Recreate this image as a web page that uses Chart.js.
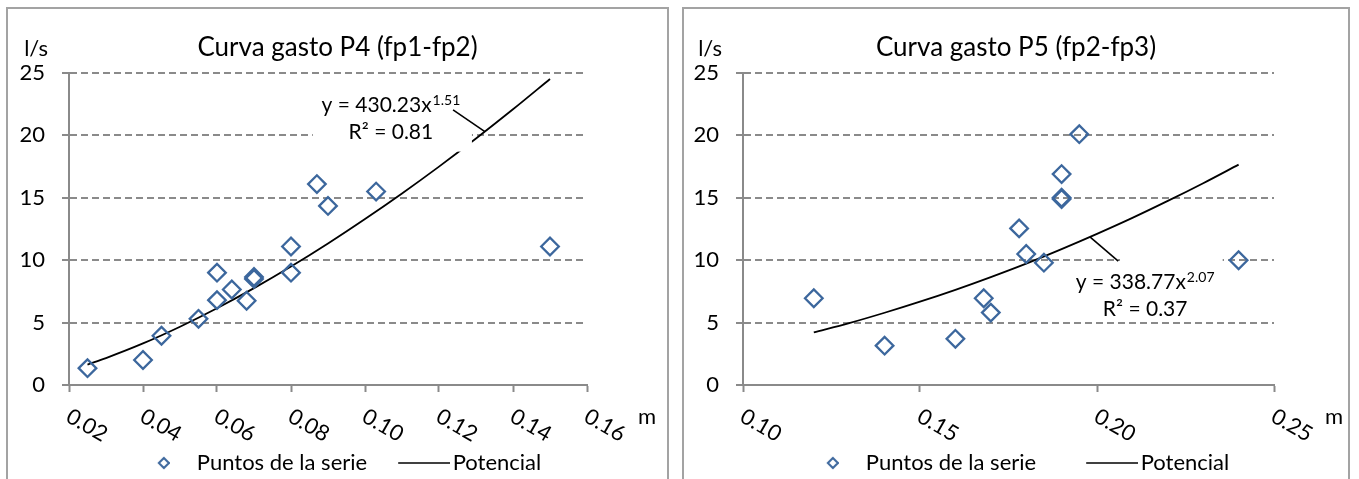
<!DOCTYPE html>
<html>
<head>
<meta charset="utf-8">
<script src="https://cdn.jsdelivr.net/npm/chart.js@4.4.1/dist/chart.umd.min.js"></script>
<style>
  html, body { margin: 0; padding: 0; background: #fff; overflow: hidden; width: 1359px; height: 479px; }
  .caja { position: absolute; border: 2px solid #a3a3a3; border-bottom: none; background: #fff; }
  #caja1 { left: 6px; top: 7px; width: 659px; height: 490px; }
  #caja2 { left: 682px; top: 7px; width: 664px; height: 490px; }
  canvas { position: absolute; left: 0; top: 0; }
</style>
</head>
<body>
<div class="caja" id="caja1"><canvas id="graficoP4" width="659" height="475"></canvas></div>
<div class="caja" id="caja2"><canvas id="graficoP5" width="664" height="475"></canvas></div>
<script>
// Eje vertical (l/s), común a las dos gráficas
const ejeY = [0, 5, 10, 15, 20, 25];

// Curva gasto P4 (fp1-fp2)
const p4Ticks = [0.02, 0.04, 0.06, 0.08, 0.10, 0.12, 0.14, 0.16];
const p4Tirante = [0.025, 0.040, 0.045, 0.055, 0.060, 0.060, 0.064, 0.068, 0.070, 0.070, 0.080, 0.080, 0.087, 0.090, 0.103, 0.150];
const p4Gasto = [1.35, 2.0, 3.95, 5.3, 6.8, 9.0, 7.65, 6.75, 8.5, 8.65, 9.0, 11.1, 16.1, 14.35, 15.5, 11.1];
const p4PotX = [0.025, 0.03, 0.04, 0.05, 0.06, 0.07, 0.08, 0.09, 0.10, 0.11, 0.12, 0.13, 0.14, 0.15];
const p4PotY = [1.64, 2.16, 3.33, 4.67, 6.15, 7.76, 9.49, 11.34, 13.30, 15.35, 17.50, 19.75, 22.09, 24.52];

// Curva gasto P5 (fp2-fp3)
const p5Ticks = [0.10, 0.15, 0.20, 0.25];
const p5Tirante = [0.120, 0.140, 0.160, 0.168, 0.170, 0.178, 0.180, 0.185, 0.190, 0.190, 0.190, 0.195, 0.240];
const p5Gasto = [6.95, 3.15, 3.7, 6.95, 5.8, 12.55, 10.5, 9.8, 16.9, 15.0, 14.9, 20.1, 10.0];
const p5PotX = [0.12, 0.13, 0.14, 0.15, 0.16, 0.17, 0.18, 0.19, 0.20, 0.21, 0.22, 0.23, 0.24];
const p5PotY = [4.21, 4.96, 5.79, 6.68, 7.63, 8.65, 9.73, 10.89, 12.11, 13.39, 14.75, 16.17, 17.66];

const AZUL = '#3c679d';
const GRIS = '#8a8a8a';
const FUENTE = 'Lato';
const ALTO = 475;        // alto del canvas
const BASE_AREA = 376;   // borde inferior del área de trazado
const LETRA = 22;

function pares(xs, ys) {
    return xs.map((x, i) => ({ x: x, y: ys[i] }));
}

// Imágenes para la leyenda (rombo y línea)
function imagenRombo() {
    const c = document.createElement('canvas');
    c.width = 20; c.height = 20;
    const ctx = c.getContext('2d');
    ctx.strokeStyle = AZUL;
    ctx.lineWidth = 2;
    ctx.beginPath();
    ctx.moveTo(14 - 5, 10);
    ctx.lineTo(14, 5);
    ctx.lineTo(14 + 5, 10);
    ctx.lineTo(14, 15);
    ctx.closePath();
    ctx.stroke();
    return c;
}

function imagenLinea() {
    const c = document.createElement('canvas');
    c.width = 69; c.height = 4;
    const ctx = c.getContext('2d');
    ctx.strokeStyle = '#000';
    ctx.lineWidth = 1.6;
    ctx.beginPath();
    ctx.moveTo(17, 2);
    ctx.lineTo(69, 2);
    ctx.stroke();
    return c;
}

// Etiquetas del eje x giradas, nombres de ejes y la ecuación de la tendencia
function extras(cfg) {
    return {
        id: 'extras',
        afterDatasetsDraw(chart) {
            const ctx = chart.ctx;
            const xs = chart.scales.x, ys = chart.scales.y;
            const eq = cfg.ecuacion;
            const bx1 = xs.getPixelForValue(eq.caja[0]), by1 = ys.getPixelForValue(eq.caja[1]);
            const bx2 = xs.getPixelForValue(eq.caja[2]), by2 = ys.getPixelForValue(eq.caja[3]);
            ctx.save();
            ctx.fillStyle = '#fff';
            ctx.fillRect(bx1, by1, bx2 - bx1, by2 - by1);

            ctx.strokeStyle = '#000';
            ctx.lineWidth = 1.6;
            ctx.beginPath();
            ctx.moveTo(xs.getPixelForValue(eq.guia[0]), ys.getPixelForValue(eq.guia[1]));
            ctx.lineTo(xs.getPixelForValue(eq.guia[2]), ys.getPixelForValue(eq.guia[3]));
            ctx.stroke();

            const cx = xs.getPixelForValue(eq.pos[0]);
            const cy = ys.getPixelForValue(eq.pos[1]);
            ctx.fillStyle = '#000';
            ctx.textBaseline = 'middle';
            ctx.textAlign = 'left';
            ctx.font = '21px ' + FUENTE;
            const w1 = ctx.measureText(eq.linea1).width;
            ctx.font = '14px ' + FUENTE;
            const w2 = ctx.measureText(eq.exponente).width;
            const sx = cx - (w1 + w2 + 1) / 2;
            ctx.font = '21px ' + FUENTE;
            ctx.fillText(eq.linea1, sx, cy);
            ctx.font = '14px ' + FUENTE;
            ctx.fillText(eq.exponente, sx + w1 + 1, cy - 5);
            ctx.font = '21px ' + FUENTE;
            ctx.textAlign = 'center';
            ctx.fillText(eq.linea2, cx, cy + 27);
            ctx.restore();
        },
        afterDraw(chart) {
            const ctx = chart.ctx;
            const xs = chart.scales.x;
            const area = chart.chartArea;
            ctx.save();
            ctx.fillStyle = '#000';
            ctx.font = LETRA + 'px ' + FUENTE;
            ctx.textBaseline = 'middle';
            ctx.textAlign = 'left';
            xs.ticks.forEach(t => {
                ctx.save();
                ctx.translate(xs.getPixelForValue(t.value) - 1, xs.top + 29.5);
                ctx.rotate(30 * Math.PI / 180);
                ctx.fillText(t.value.toFixed(2), 0, 0);
                ctx.restore();
            });
            ctx.fillText(cfg.unidadX, area.right + 51, area.bottom + 32);
            ctx.textAlign = 'right';
            ctx.fillText(cfg.unidadY, area.left - 21, area.top - 24);
            ctx.restore();
        }
    };
}

function crearGrafica(idCanvas, cfg) {
    const rombo = imagenRombo();
    const linea = imagenLinea();
    // alto del eje x para que el área de trazado termine en BASE_AREA
    const altoEjeX = ALTO - BASE_AREA - (LETRA + 10 + cfg.sepLeyenda);
    return new Chart(document.getElementById(idCanvas), {
        type: 'scatter',
        data: {
            datasets: [{
                label: 'Puntos de la serie',
                data: pares(cfg.x, cfg.y),
                pointStyle: 'rectRot',
                pointRadius: 8.8,
                pointHoverRadius: 8.8,
                pointBorderWidth: 2.3,
                borderColor: AZUL,
                backgroundColor: 'rgba(0,0,0,0)'
            }, {
                label: 'Potencial',
                data: pares(cfg.tx, cfg.ty),
                showLine: true,
                pointRadius: 0,
                borderColor: '#000',
                borderWidth: 1.8,
                cubicInterpolationMode: 'monotone',
                fill: false
            }]
        },
        options: {
            responsive: false,
            animation: false,
            events: [],
            layout: { padding: 0 },
            scales: {
                x: {
                    type: 'linear',
                    min: cfg.ticks[0],
                    max: cfg.ticks[cfg.ticks.length - 1],
                    afterBuildTicks: s => { s.ticks = cfg.ticks.map(v => ({ value: v })); },
                    afterFit: s => { s.height = altoEjeX; },
                    ticks: { display: false },
                    grid: { drawOnChartArea: false, drawTicks: true, tickLength: 7, tickWidth: 2, tickColor: GRIS },
                    border: { display: true, color: GRIS, width: 2 }
                },
                y: {
                    type: 'linear',
                    position: 'left',
                    min: ejeY[0],
                    max: ejeY[ejeY.length - 1],
                    afterBuildTicks: s => { s.ticks = ejeY.map(v => ({ value: v })); },
                    afterFit: s => { s.width = cfg.anchoY; },
                    ticks: { font: { family: FUENTE, size: LETRA }, color: '#000', padding: 17, autoSkip: false },
                    grid: { color: GRIS, lineWidth: 2, tickLength: 7, tickWidth: 2, tickColor: GRIS, tickBorderDash: [] },
                    border: { display: true, color: GRIS, width: 2, dash: [7, 4] }
                },
                relleno: {
                    type: 'linear',
                    position: 'right',
                    grid: { display: false },
                    border: { display: false },
                    ticks: { display: false },
                    afterFit: s => { s.width = cfg.derecha; }
                }
            },
            plugins: {
                title: {
                    display: true,
                    text: cfg.titulo,
                    color: '#000',
                    font: { family: FUENTE, size: 26, weight: 'normal' },
                    padding: { top: 23.4, bottom: 9.4 }
                },
                legend: {
                    position: 'bottom',
                    labels: {
                        usePointStyle: true,
                        pointStyleWidth: 52,
                        padding: cfg.sepLeyenda,
                        color: '#000',
                        font: { family: FUENTE, size: LETRA },
                        generateLabels: () => [
                            { text: 'Puntos de la serie', pointStyle: rombo, fontColor: '#000', lineWidth: 0, hidden: false, datasetIndex: 0 },
                            { text: 'Potencial', pointStyle: linea, fontColor: '#000', lineWidth: 0, hidden: false, datasetIndex: 1 }
                        ]
                    }
                },
                tooltip: { enabled: false }
            }
        },
        plugins: [extras(cfg)]
    });
}

crearGrafica('graficoP4', {
    titulo: 'Curva gasto P4 (fp1-fp2)',
    ticks: p4Ticks, x: p4Tirante, y: p4Gasto, tx: p4PotX, ty: p4PotY,
    unidadX: 'm', unidadY: 'l/s',
    anchoY: 61, derecha: 80, sepLeyenda: 22.5,
    ecuacion: {
        linea1: 'y = 430.23x', exponente: '1.51', linea2: 'R² = 0.81',
        pos: [0.107, 22.4],
        caja: [0.0859, 23.8, 0.1289, 18.7],
        guia: [0.1238, 22.04, 0.1324, 20.3]
    }
});

crearGrafica('graficoP5', {
    titulo: 'Curva gasto P5 (fp2-fp3)',
    ticks: p5Ticks, x: p5Tirante, y: p5Gasto, tx: p5PotX, ty: p5PotY,
    unidadX: 'm', unidadY: 'l/s',
    anchoY: 59, derecha: 74, sepLeyenda: 41.5,
    ecuacion: {
        linea1: 'y = 338.77x', exponente: '2.07', linea2: 'R² = 0.37',
        pos: [0.2136, 8.24],
        caja: [0.2065, 10.24, 0.2355, 5.27],
        guia: [0.198, 11.87, 0.206, 9.92]
    }
});
</script>
</body>
</html>
